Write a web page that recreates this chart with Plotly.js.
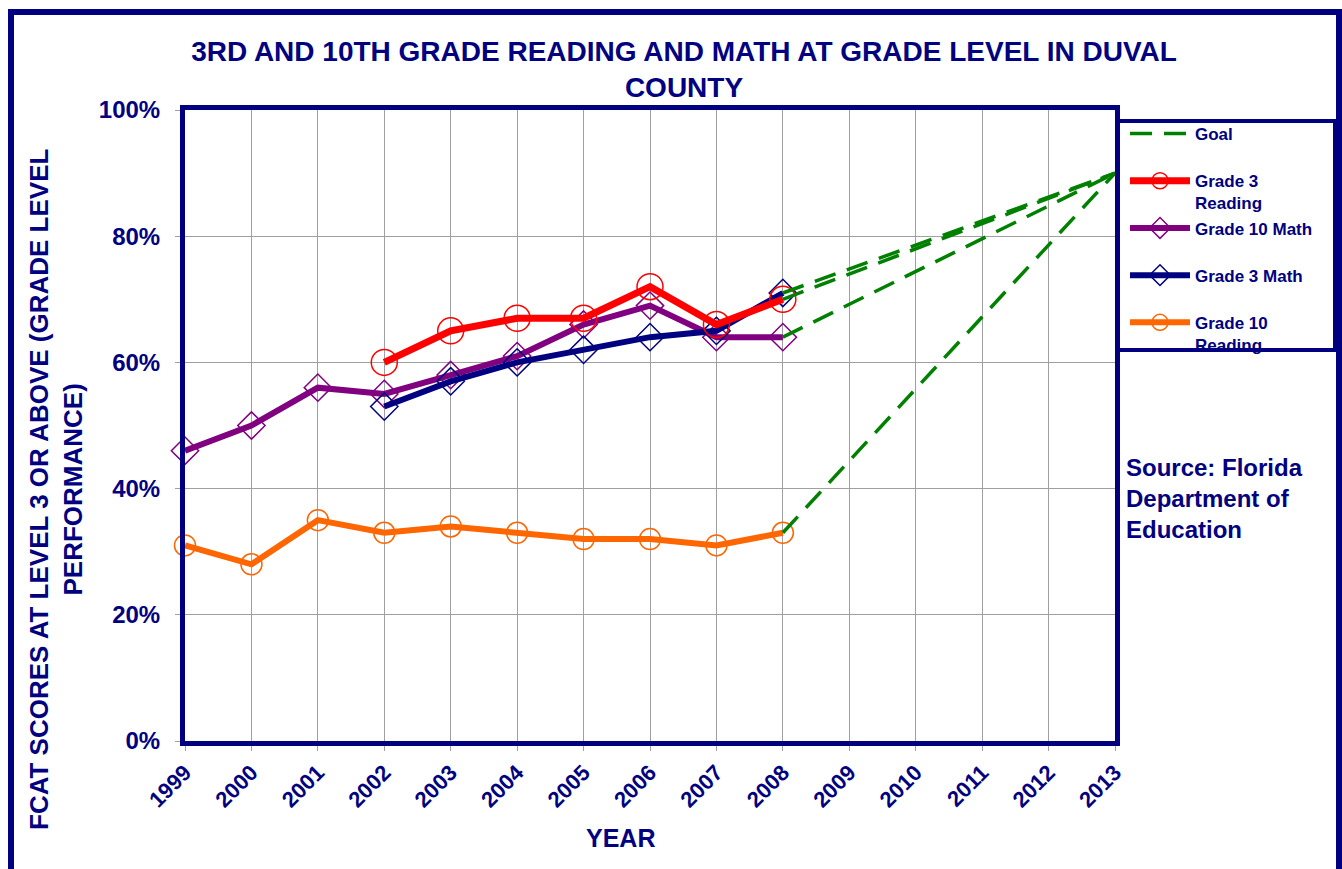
<!DOCTYPE html>
<html>
<head>
<meta charset="utf-8">
<script src="https://cdn.plot.ly/plotly-3.0.1.min.js"></script>
<style>
  html, body { margin: 0; padding: 0; background: #fff; }
  #wrap { position: relative; width: 1342px; height: 869px; overflow: hidden; }
  #chart { width: 1342px; height: 869px; }
  #frame { position: absolute; left: 8px; top: 9px; width: 1322px; height: 900px;
           border: 6px solid #000080; pointer-events: none; }
</style>
</head>
<body>
<div id="wrap">
  <div id="chart"></div>
  <div id="frame"></div>
</div>
<script>
const years = [1999, 2000, 2001, 2002, 2003, 2004, 2005, 2006, 2007, 2008];
const grade3Years = [2002, 2003, 2004, 2005, 2006, 2007, 2008];
const grade3Reading = [60, 65, 67, 67, 72, 66, 70];
const grade3Math = [53, 57, 60, 62, 64, 65, 71];
const grade10Math = [46, 50, 56, 55, 58, 61, 66, 69, 64, 64];
const grade10Reading = [31, 28, 35, 33, 34, 33, 32, 32, 31, 33];
const goalYears = [2008, 2013];
const goalStarts = [71, 70, 64, 33];
const goalTarget = 90;
const tickYears = [1999, 2000, 2001, 2002, 2003, 2004, 2005, 2006, 2007, 2008, 2009, 2010, 2011, 2012, 2013];
const yTicks = [0, 20, 40, 60, 80, 100];
const yTickText = ['0%', '20%', '40%', '60%', '80%', '100%'];

const NAVY = '#000080';
const FONT = 'Liberation Sans, Arial, sans-serif';

const traces = [];
traces.push({
  x: years, y: grade10Reading, name: 'Grade 10<br>Reading', mode: 'lines+markers',
  line: {color: '#FF6600', width: 6},
  marker: {symbol: 'circle-open', size: 21, color: '#FF6600', line: {width: 1.5}},
  cliponaxis: false, legendrank: 5
});
traces.push({
  x: years, y: grade10Math, name: 'Grade 10 Math<br> ', mode: 'lines+markers',
  line: {color: '#800080', width: 6},
  marker: {symbol: 'diamond-open', size: 21, color: '#800080', line: {width: 1.5}},
  cliponaxis: false, legendrank: 3
});
traces.push({
  x: grade3Years, y: grade3Math, name: 'Grade 3 Math<br> ', mode: 'lines+markers',
  line: {color: '#000080', width: 6},
  marker: {symbol: 'diamond-open', size: 21, color: '#000080', line: {width: 1.5}},
  cliponaxis: false, legendrank: 4
});
traces.push({
  x: grade3Years, y: grade3Reading, name: 'Grade 3<br>Reading', mode: 'lines+markers',
  line: {color: '#FF0000', width: 7},
  marker: {symbol: 'circle-open', size: 26, color: '#FF0000', line: {width: 1.5}},
  cliponaxis: false, legendrank: 2
});
goalStarts.forEach((s, i) => {
  traces.push({
    x: goalYears, y: [s, goalTarget], name: 'Goal<br> ', mode: 'lines',
    line: {color: '#008000', width: 3.5, dash: '22px,12px'},
    showlegend: i === 0, legendrank: 1, cliponaxis: false
  });
});

const x0 = 185, x1 = 1115, yTop = 110, yBot = 741;
const px = v => (v - x0) / (x1 - x0);
const py = v => (yBot - v) / (yBot - yTop);

const layout = {
  width: 1342, height: 869,
  margin: {l: 185, r: 227, t: 110, b: 128},
  paper_bgcolor: '#fff', plot_bgcolor: '#fff',
  font: {family: FONT, color: NAVY, weight: 'bold'},
  title: {
    text: '3RD AND 10TH GRADE READING AND MATH AT GRADE LEVEL IN DUVAL<br>COUNTY',
    font: {family: FONT, size: 28, color: NAVY, weight: 'bold'},
    x: 684 / 1342, xref: 'container', xanchor: 'center',
    y: 1 - 61 / 869, yref: 'container', yanchor: 'middle'
  },
  xaxis: {
    range: [1999, 2013], tickvals: tickYears, ticktext: tickYears.map(String),
    tickangle: -45, tickfont: {family: FONT, size: 22, color: NAVY, weight: 'bold'},
    showgrid: true, gridcolor: '#a0a0a0', gridwidth: 1,
    ticks: 'outside', ticklen: 5, tickcolor: '#a0a0a0',
    showline: true, linecolor: NAVY, linewidth: 5, mirror: true,
    zeroline: false, fixedrange: true
  },
  yaxis: {
    range: [0, 100], tickvals: yTicks, ticktext: yTickText,
    tickfont: {family: FONT, size: 24, color: NAVY, weight: 'bold'},
    showgrid: true, gridcolor: '#a0a0a0', gridwidth: 1,
    ticks: 'outside', ticklen: 5, tickcolor: '#a0a0a0', ticklabelstandoff: 10,
    showline: true, linecolor: NAVY, linewidth: 5, mirror: true,
    zeroline: false, fixedrange: true
  },
  legend: {
    x: px(1125), xanchor: 'left', y: py(116), yanchor: 'top',
    bgcolor: 'rgba(0,0,0,0)', borderwidth: 0,
    font: {family: FONT, size: 17, color: NAVY, weight: 'bold'},
    traceorder: 'normal', valign: 'top', itemwidth: 60
  },
  shapes: [{
    type: 'rect', xref: 'paper', yref: 'paper',
    x0: px(1117), x1: px(1335), y0: py(121), y1: py(350),
    line: {color: NAVY, width: 4}, fillcolor: 'rgba(0,0,0,0)'
  }],
  annotations: [
    {
      text: 'Source: Florida<br>Department of<br>Education', xref: 'paper', yref: 'paper',
      x: px(1124), y: py(452), xanchor: 'left', yanchor: 'top', align: 'left', showarrow: false,
      font: {family: FONT, size: 24, color: NAVY, weight: 'bold'}
    },
    {
      text: 'FCAT SCORES AT LEVEL 3 OR ABOVE (GRADE LEVEL<br>PERFORMANCE)', xref: 'paper', yref: 'paper',
      x: px(56), y: py(490), xanchor: 'center', yanchor: 'middle', textangle: -90, showarrow: false,
      font: {family: FONT, size: 26, color: NAVY, weight: 'bold'}
    },
    {
      text: 'YEAR', xref: 'paper', yref: 'paper',
      x: px(620), y: py(838), xanchor: 'center', yanchor: 'middle', showarrow: false,
      font: {family: FONT, size: 25, color: NAVY, weight: 'bold'}
    }
  ]
};

Plotly.newPlot('chart', traces, layout, {displayModeBar: false, staticPlot: true});
</script>
</body>
</html>
